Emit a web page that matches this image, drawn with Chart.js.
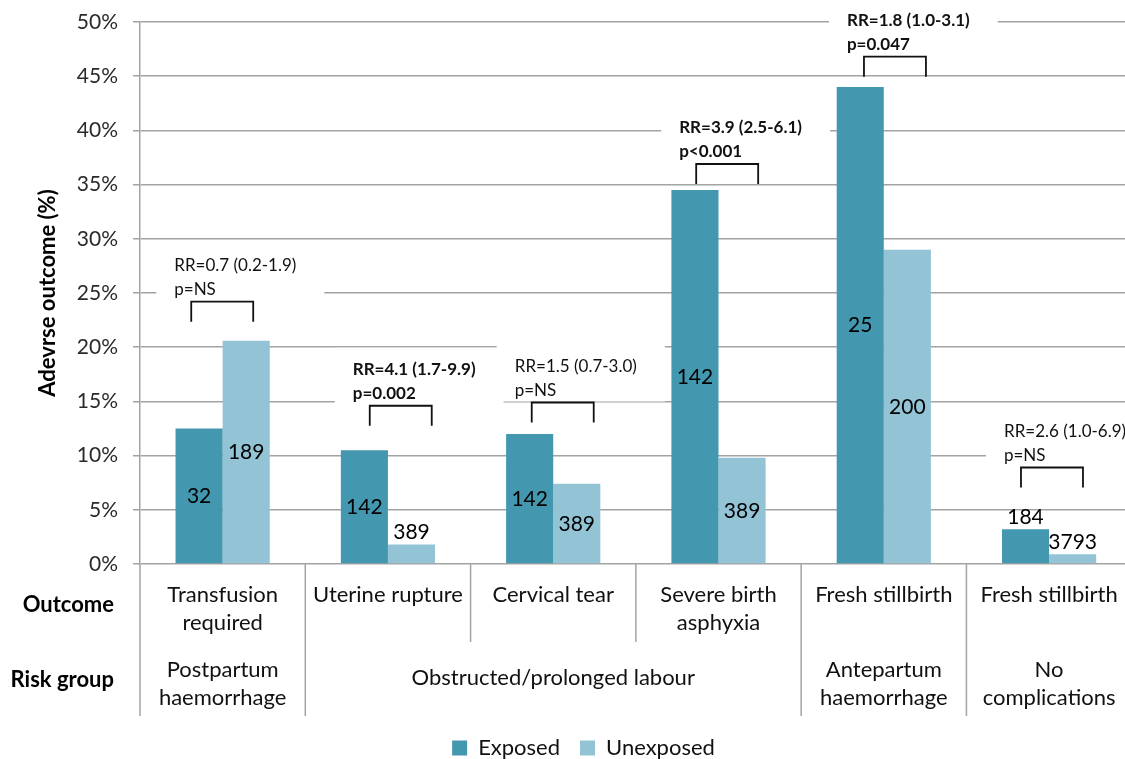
<!DOCTYPE html>
<html><head><meta charset="utf-8">
<script src="https://cdn.jsdelivr.net/npm/chart.js@4"></script>
<style>html,body{margin:0;padding:0;overflow:hidden;background:#fff}canvas{display:block}</style>
</head><body>
<canvas id="c" width="1135" height="759"></canvas>
<script>
// ---- data ----
const outcomes = [['Transfusion','required'], 'Uterine rupture', 'Cervical tear', ['Severe birth','asphyxia'], 'Fresh stillbirth', 'Fresh stillbirth'];
const riskGroupLabels = [['Postpartum','haemorrhage'], ['Obstructed/prolonged labour'], ['Antepartum','haemorrhage'], ['No','complications']];
const riskGroupFirst = [0, 1, 4, 5];
const riskGroupLast  = [0, 3, 4, 5];
const exposedPct   = [12.5, 10.5, 12.0, 34.5, 44.0, 3.2];
const unexposedPct = [20.6, 1.8, 7.4, 9.8, 29.0, 0.9];
const exposedN   = [32, 142, 142, 142, 25, 184];
const unexposedN = [189, 389, 389, 389, 200, 3793];
const rrLabels = ['RR=0.7 (0.2-1.9)', 'RR=4.1 (1.7-9.9)', 'RR=1.5 (0.7-3.0)', 'RR=3.9 (2.5-6.1)', 'RR=1.8 (1.0-3.1)', 'RR=2.6 (1.0-6.9)'];
const pLabels  = ['p=NS', 'p=0.002', 'p=NS', 'p<0.001', 'p=0.047', 'p=NS'];
const rrSignificant = [false, true, false, true, true, false];
const yTickValues = [0, 5, 10, 15, 20, 25, 30, 35, 40, 45, 50];

// ---- styling / layout (not data) ----
const FONT = 'Lato';
const GRID = '#a3a3a3';
const TXT = '#111';
const annotLayout = {
  bracketLeft: [-0.19, -0.11, -0.13, -0.135, -0.12, -0.17], // in category widths from category centre
  bracketWidth: 0.375,
  bracketTop: [24.2, 14.6, 14.9, 36.9, 46.8, 8.9],          // in axis units (%)
  legPx: 20, textDx: -17, rrDy: -36, pDy: -12
};

const annotPlugin = {
  id: 'annot',
  beforeDatasetsDraw(chart) {
    const {ctx, scales: {x, y}} = chart;
    const cw = x.getPixelForValue(1) - x.getPixelForValue(0);
    ctx.save();
    rrLabels.forEach((rr, i) => {
      const bx = x.getPixelForValue(i) + annotLayout.bracketLeft[i] * cw;
      const by = y.getPixelForValue(annotLayout.bracketTop[i]);
      ctx.font = (rrSignificant[i] ? 'bold ' : '') + '17px ' + FONT;
      const w = Math.max(ctx.measureText(rr).width, ctx.measureText(pLabels[i]).width);
      const tx = bx + annotLayout.textDx;
      const top = by + annotLayout.rrDy - 22;
      ctx.fillStyle = '#fff';
      ctx.fillRect(tx - 18, top, w + 46, by - top - 1);
    });
    ctx.restore();
  },
  afterDatasetsDraw(chart) {
    const {ctx, scales: {x, y}} = chart;
    const cw = x.getPixelForValue(1) - x.getPixelForValue(0);
    ctx.save();
    rrLabels.forEach((rr, i) => {
      const bx = x.getPixelForValue(i) + annotLayout.bracketLeft[i] * cw;
      const bw = annotLayout.bracketWidth * cw;
      const by = y.getPixelForValue(annotLayout.bracketTop[i]);
      ctx.strokeStyle = '#111';
      ctx.lineWidth = 1.8;
      ctx.beginPath();
      ctx.moveTo(bx, by + annotLayout.legPx);
      ctx.lineTo(bx, by);
      ctx.lineTo(bx + bw, by);
      ctx.lineTo(bx + bw, by + annotLayout.legPx);
      ctx.stroke();
      ctx.fillStyle = TXT;
      ctx.font = (rrSignificant[i] ? 'bold ' : '') + '17px ' + FONT;
      ctx.textAlign = 'left';
      ctx.textBaseline = 'middle';
      const tx = bx + annotLayout.textDx;
      ctx.fillText(rr, tx, by + annotLayout.rrDy);
      ctx.fillText(pLabels[i], tx, by + annotLayout.pDy);
    });
    ctx.font = '21px ' + FONT;
    ctx.textAlign = 'center';
    ctx.textBaseline = 'middle';
    ctx.fillStyle = '#000';
    chart.data.datasets.forEach((ds, di) => {
      const meta = chart.getDatasetMeta(di);
      meta.data.forEach((bar, i) => {
        const n = ds.nLabels[i];
        const base = y.getPixelForValue(0);
        const yy = (base - bar.y > 45) ? (bar.y + base) / 2 : bar.y - 12;
        ctx.fillText(String(n), bar.x, yy);
      });
    });
    ctx.restore();
  },
  afterDraw(chart) {
    const {ctx, scales: {x, y}} = chart;
    const cw = x.getPixelForValue(1) - x.getPixelForValue(0);
    const base = y.getPixelForValue(0);
    ctx.save();
    ctx.strokeStyle = GRID;
    ctx.lineWidth = 1.5;
    for (let b = 0; b <= outcomes.length; b++) {
      const px = x.getPixelForValue(0) + (b - 0.5) * cw;
      const full = riskGroupFirst.includes(b) || b === outcomes.length;
      ctx.beginPath();
      ctx.moveTo(px, base);
      ctx.lineTo(px, full ? 716 : 642);
      ctx.stroke();
    }
    ctx.fillStyle = TXT;
    ctx.font = '22px ' + FONT;
    ctx.textAlign = 'center';
    ctx.textBaseline = 'middle';
    riskGroupLabels.forEach((lines, g) => {
      const cx = (x.getPixelForValue(riskGroupFirst[g]) + x.getPixelForValue(riskGroupLast[g])) / 2;
      if (lines.length === 1) ctx.fillText(lines[0], cx, 678);
      else lines.forEach((t, k) => ctx.fillText(t, cx, 684 + (k - (lines.length - 1) / 2) * 28));
    });
    ctx.font = 'bold 22px ' + FONT;
    ctx.textAlign = 'right';
    ctx.fillStyle = '#000';
    ctx.fillText('Outcome', 114, 605);
    ctx.fillText('Risk group', 114, 680);
    ctx.restore();
  }
};

new Chart(document.getElementById('c'), {
  type: 'bar',
  data: {
    labels: outcomes,
    datasets: [
      { label: 'Exposed', data: exposedPct, nLabels: exposedN, backgroundColor: '#4398af' },
      { label: 'Unexposed', data: unexposedPct, nLabels: unexposedN, backgroundColor: '#93c4d6' }
    ]
  },
  options: {
    responsive: false,
    animation: false,
    events: [],
    layout: { padding: { left: 35, top: 22, right: 3, bottom: -10 } },
    datasets: { bar: { categoryPercentage: 0.57, barPercentage: 1 } },
    plugins: {
      legend: {
        position: 'bottom',
        labels: { font: { family: FONT, size: 22 }, color: TXT, boxWidth: 15, boxHeight: 15, padding: 20 }
      },
      tooltip: { enabled: false }
    },
    scales: {
      x: {
        grid: { display: false, drawTicks: false },
        border: { display: false },
        ticks: { font: { family: FONT, size: 22, lineHeight: 1.27 }, color: TXT, padding: 17, maxRotation: 0, autoSkip: false },
        afterFit(s) { s.height = 153; }
      },
      y: {
        min: 0, max: 50,
        afterBuildTicks(s) { s.ticks = yTickValues.map(v => ({ value: v })); },
        ticks: { font: { family: FONT, size: 21, lineHeight: 0.6 }, color: '#2a2a2a', padding: 15, callback: v => v + '%' },
        grid: { color: GRID, lineWidth: 1.5, tickLength: 7 },
        border: { display: true, color: GRID, width: 1.5 },
        title: { display: true, text: 'Adevrse outcome (%)', font: { family: FONT, size: 22, weight: 'bold' }, color: '#000', padding: { top: 0, bottom: 0 } },
        afterFit(s) { s.width = 105; }
      }
    }
  },
  plugins: [annotPlugin]
});
</script>
</body></html>
